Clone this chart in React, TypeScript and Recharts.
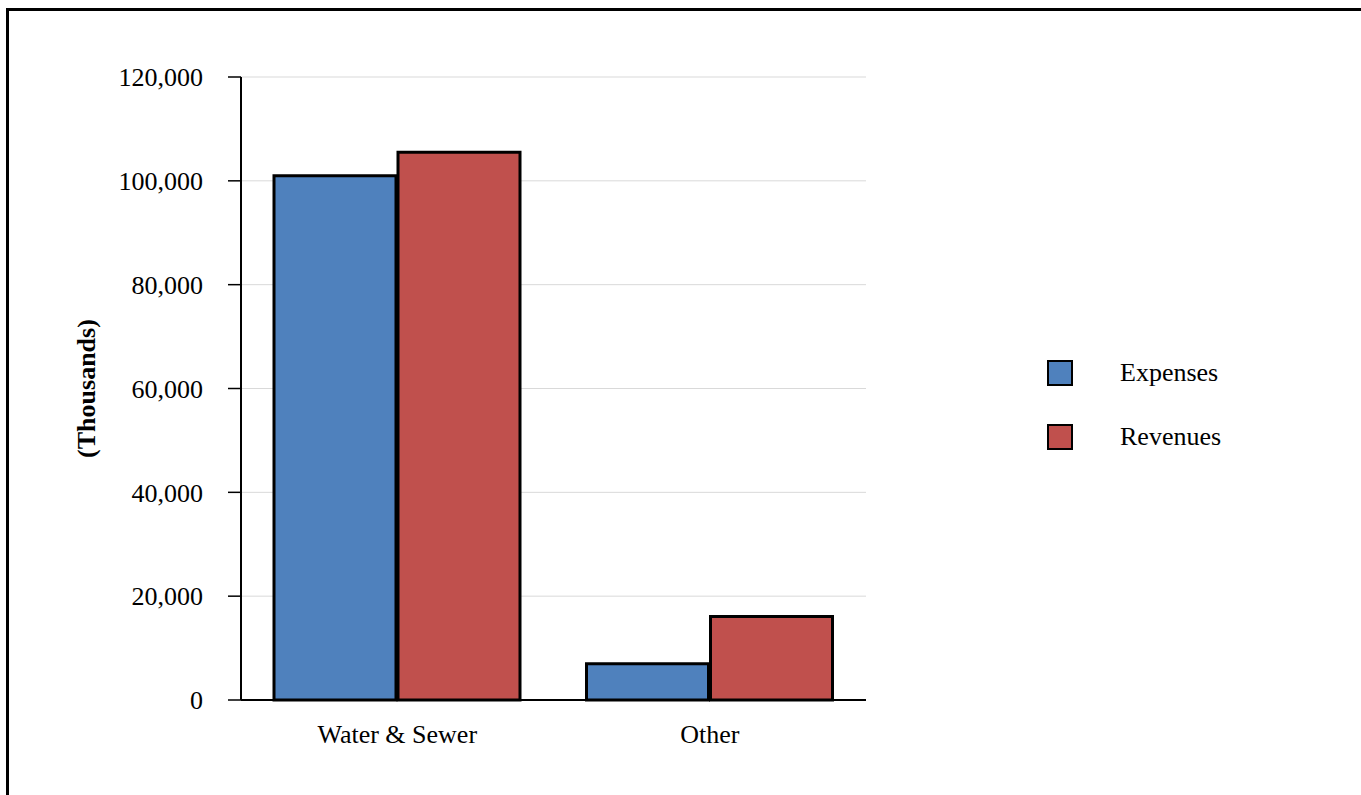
import React from "react";
import {
  BarChart,
  Bar,
  XAxis,
  YAxis,
  CartesianGrid,
  Legend,
} from "recharts";

const categories = ["Water & Sewer", "Other"];
const expenses = [101000, 7000];
const revenues = [105500, 16100];
const yTicks = [0, 20000, 40000, 60000, 80000, 100000, 120000];

const SERIES = [
  { key: "expenses", name: "Expenses", color: "#4F81BD" },
  { key: "revenues", name: "Revenues", color: "#C0504D" },
];

const FONT = '"Liberation Serif", "Times New Roman", serif';

const data = categories.map((name, i) => ({
  name,
  expenses: expenses[i],
  revenues: revenues[i],
}));

const formatThousands = (v: number) => v.toLocaleString("en-US");

interface LegendItem {
  value?: string;
  color?: string;
}

function ChartLegend({ payload }: { payload?: LegendItem[] }) {
  if (!payload?.length) return null;
  return (
    <div style={{ fontFamily: FONT, fontSize: 26, color: "#000" }}>
      {payload.map((item, i) => (
        <div
          key={i}
          style={{
            display: "flex",
            alignItems: "center",
            height: 26,
            marginBottom: i < payload.length - 1 ? 38 : 0,
          }}
        >
          <span
            style={{
              display: "inline-block",
              boxSizing: "border-box",
              width: 26,
              height: 26,
              background: item.color,
              border: "2.5px solid #000",
            }}
          />
          <span style={{ marginLeft: 47, lineHeight: "26px" }}>{item.value}</span>
        </div>
      ))}
    </div>
  );
}

export default function App() {
  return (
    <div
      style={{
        position: "absolute",
        left: 0,
        top: 0,
        width: 1361,
        height: 795,
        overflow: "hidden",
        background: "#fff",
      }}
    >
      <div
        style={{
          position: "absolute",
          left: 6,
          top: 8,
          width: 1400,
          height: 900,
          border: "3px solid #000",
        }}
      />
      <div style={{ position: "absolute", left: 0, top: 0 }}>
        <BarChart
          width={1361}
          height={795}
          data={data}
          margin={{ top: 77, right: 195, bottom: 0, left: 0 }}
          barCategoryGap={33}
          barGap={2}
        >
          <CartesianGrid vertical={false} stroke="#d9d9d9" strokeWidth={1} />
          <XAxis
            dataKey="name"
            height={95}
            tickLine={false}
            tickSize={0}
            tickMargin={25}
            axisLine={{ stroke: "#000", strokeWidth: 2 }}
            tick={{ fill: "#000", fontSize: 26, fontFamily: FONT }}
          />
          <YAxis
            width={241}
            domain={[0, 120000]}
            ticks={yTicks}
            interval={0}
            tickFormatter={formatThousands}
            tickSize={13}
            tickMargin={25}
            tickLine={{ stroke: "#000", strokeWidth: 1.5 }}
            axisLine={{ stroke: "#000", strokeWidth: 2 }}
            tick={{ fill: "#000", fontSize: 26, fontFamily: FONT }}
            label={{
              value: "(Thousands)",
              angle: -90,
              position: "center",
              dx: -35,
              fill: "#000",
              fontSize: 26,
              fontWeight: "bold",
              fontFamily: FONT,
            }}
          />
          <Legend
            layout="vertical"
            align="right"
            verticalAlign="middle"
            content={<ChartLegend />}
            wrapperStyle={{ width: 300, left: 1047, top: 360 }}
          />
          {SERIES.map((s) => (
            <Bar
              key={s.key}
              dataKey={s.key}
              name={s.name}
              fill={s.color}
              stroke="#000"
              strokeWidth={3}
              isAnimationActive={false}
            />
          ))}
        </BarChart>
      </div>
    </div>
  );
}
